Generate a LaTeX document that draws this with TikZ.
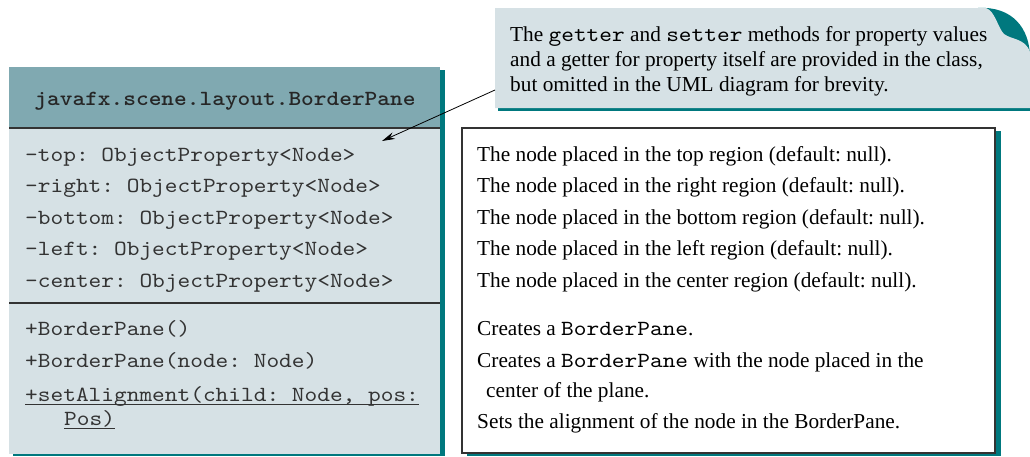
\documentclass[tikz,border=0pt]{standalone}
\usepackage{fontspec}
\setmainfont{Liberation Serif}
\newfontfamily\umlmono{lmmono10-regular.otf}[BoldFont=lmmonolt10-bold.otf, FakeStretch=1.12]
\usetikzlibrary{arrows.meta,positioning}
\definecolor{umlteal}{HTML}{00787E}
\definecolor{umlhead}{HTML}{80A9B1}
\definecolor{umlbody}{HTML}{D6E1E5}
\definecolor{umlrule}{HTML}{333333}
\frenchspacing
\newcommand{\code}[1]{{\umlmono\fontsize{21.6}{25}\selectfont #1}}
\tikzset{
  uml/shadow/.style={fill=umlteal},
  uml/rule/.style={draw=umlrule, line width=1.2pt},
  uml/member/.style={anchor=base west, inner sep=0pt, text=black!80, font=\umlmono\fontsize{21.6}{25}\selectfont},
  uml/title/.style={anchor=base, inner sep=0pt, text=black!85, font=\umlmono\bfseries\fontsize{21.6}{25}\selectfont},
  uml/uline/.style={draw=black!80, line width=0.8pt},
  desc/box/.style={fill=white, draw=umlrule, line width=1.4pt},
  desc/line/.style={anchor=base west, inner sep=0pt, font=\fontsize{21.3}{25}\selectfont},
  note/arr/.style={-{Stealth[length=13pt,width=7pt]}, line width=0.8pt}
}
\begin{document}
\begin{tikzpicture}[x=1pt,y=-1pt]
\useasboundingbox (0,0) rectangle (1030,456);

% class box
\fill[uml/shadow] (13,70) rectangle (445,456);
\fill[umlhead] (9,67) rectangle (440,128);
\fill[umlbody] (9,128) rectangle (440,454);
\draw[uml/rule] (9,128) -- (440,128);
\draw[uml/rule] (9,303) -- (440,303);
\node[uml/title] (clsname) at (225,105) {javafx.scene.layout.BorderPane};

\foreach \y/\t [count=\i] in {161/{-top: ObjectProperty<Node>}, 192.5/{-right: ObjectProperty<Node>},
    224/{-bottom: ObjectProperty<Node>}, 255.5/{-left: ObjectProperty<Node>}, 287/{-center: ObjectProperty<Node>}}
  \node[uml/member] (attr\i) at (25,\y) {\t};

\node[uml/member] (meth1) at (25,335) {+BorderPane()};
\node[uml/member] (meth2) at (25,367) {+BorderPane(node: Node)};
\node[uml/member] (meth3) at (25,401.5) {+setAlignment(child: Node, pos:};
\node[uml/member] (meth4) at (64,425) {Pos)};
\draw[uml/uline] ([yshift=-3pt]meth3.base west) -- ([yshift=-3pt]meth3.base east);
\draw[uml/uline] ([yshift=-3pt]meth4.base west) -- ([yshift=-3pt]meth4.base east);

% description box
\fill[uml/shadow] (467,131) rectangle (1001,456);
\draw[desc/box] (462,128) rectangle (995,453);
\foreach \y/\t [count=\i] in {161/top, 192.5/right, 224/bottom, 255.5/left, 287/center}
  \node[desc/line] (dattr\i) at (477,\y) {The node placed in the \t\ region (default: null).};
\node[desc/line] (dmeth1) at (477,335) {Creates a \code{BorderPane}.};
\node[desc/line] (dmeth2) at (477,367) {Creates a \code{BorderPane} with the node placed in the};
\node[desc/line] (dmeth2b) at (486,397) {center of the plane.};
\node[desc/line] (dmeth3) at (477,428) {Sets the alignment of the node in the BorderPane.};

% note
\fill[uml/shadow] (498,100) rectangle (1030,111);
\fill[uml/shadow] (978,8) .. controls (1012,6) and (1030,28) .. (1030,58) -- (1030,62) -- (978,62) -- cycle;
\fill[umlbody] (495,8) -- (986,8) .. controls (995,11) and (998,28) .. (1004,34)
  .. controls (1012,40) and (1025,38) .. (1030,52) -- (1030,108) -- (495,108) -- cycle;
\node[desc/line] (note1) at (510,41) {The \code{getter} and \code{setter} methods for property values};
\node[desc/line] (note2) at (510,66) {and a getter for property itself are provided in the class,};
\node[desc/line] (note3) at (510,91) {but omitted in the UML diagram for brevity.};

\coordinate (notefoot) at (495,90);
\coordinate (arrtip) at (382,141);
\draw[note/arr] (notefoot) -- (arrtip);
\end{tikzpicture}
\end{document}
